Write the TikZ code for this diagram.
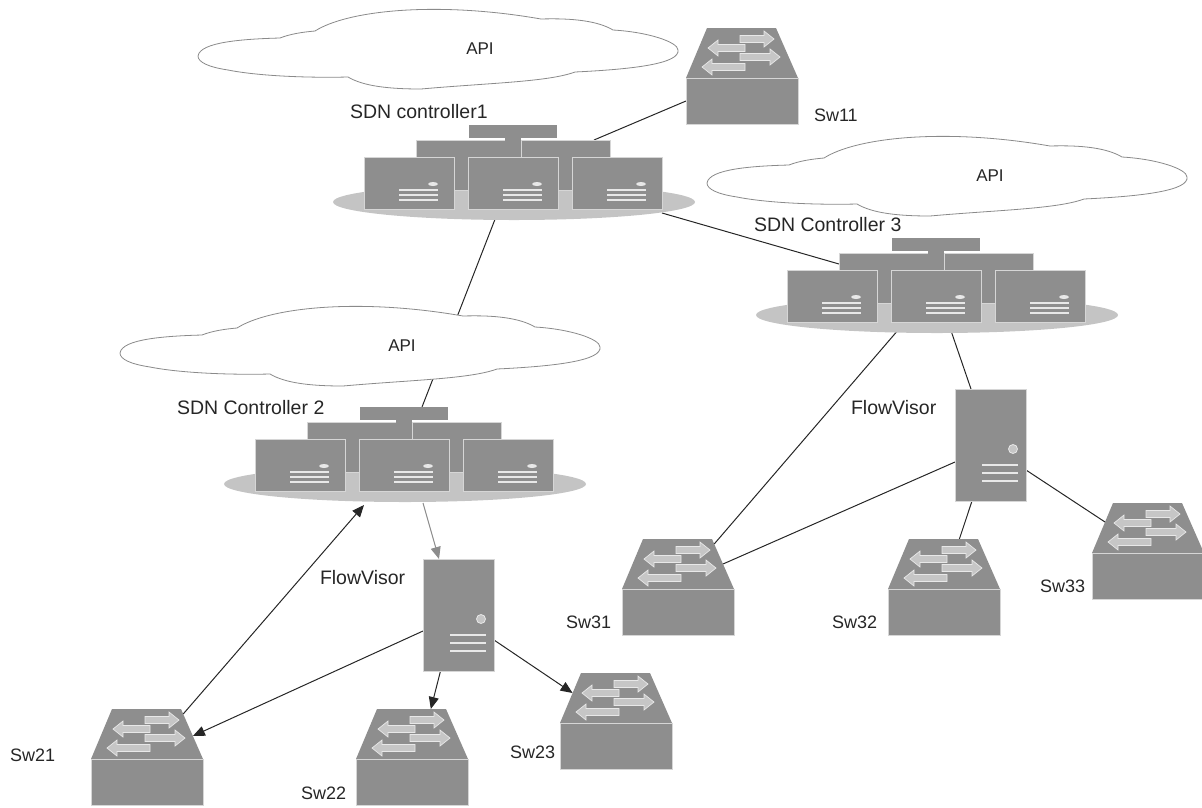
\documentclass[tikz,border=0pt]{standalone}
\usepackage{fontspec}
\setmainfont{Liberation Sans}
\usetikzlibrary{arrows.meta,calc,backgrounds,shapes.geometric}
\definecolor{devgray}{HTML}{8E8E8E}
\definecolor{devedge}{HTML}{D6D6D6}
\definecolor{discgray}{HTML}{C4C4C4}
\definecolor{flowfill}{HTML}{C6C6C6}
\definecolor{flowedge}{HTML}{E8E8E8}
\definecolor{cloudline}{HTML}{8A8A8A}
\newcommand\swflow[4]{\path[flowarrow] (#1,#4-3.5) -- (#3,#4-3.5) -- (#3,#4-8) -- (#2,#4) -- (#3,#4+8) -- (#3,#4+3.5) -- (#1,#4+3.5) -- cycle;}
\newcommand\farmdetail[1]{%
  \path[fill=flowedge] (#1+69,27) ellipse [x radius=5,y radius=2];
  \draw[detail] (#1+35,33) -- (#1+74,33) (#1+35,38) -- (#1+74,38) (#1+35,43) -- (#1+74,43);}
\tikzset{
  x=1pt,y=-1pt,
  body/.style={rectangle,anchor=north west,fill=devgray,draw=devedge,line width=0.7pt,inner sep=0pt,outer sep=0pt},
  flowarrow/.style={fill=flowfill,draw=flowedge,line width=0.7pt},
  detail/.style={draw=flowedge,line width=1.2pt},
  link/.style={draw=black!85,line width=1pt},
  headed/.style={link,-{Triangle[length=12pt,width=10pt]}},
  grayhead/.style={draw=black!45,fill=black!45,line width=1pt,-{Triangle[length=12pt,width=10pt]}},
  lab/.style={anchor=west,inner sep=0pt,outer sep=0pt,text=black!85,font=\fontsize{19.5}{22}\selectfont},
  swlab/.style={lab,font=\fontsize{18}{22}\selectfont},
  apilab/.style={anchor=center,inner sep=0pt,text=black!85,font=\fontsize{17}{20}\selectfont},
  switch/.pic={
    \fill[devgray] (0,0) -- (21,-50) -- (90,-50) -- (112,0) -- cycle;
    \coordinate (-bl) at (0,0); \coordinate (-br) at (112,0);
    \coordinate (-tl) at (21,-50); \coordinate (-tr) at (90,-50);
    \node[body,minimum width=112pt,minimum height=46pt] (-front) at (0,0) {};
    \swflow{54}{88}{78}{-39}
    \swflow{59}{22}{32}{-30}
    \swflow{54}{94}{84}{-21}
    \swflow{59}{16}{26}{-11}
  },
  server/.pic={
    \node[body,minimum width=71pt,minimum height=112pt] (-body) at (0,0) {};
    \path[fill=flowfill,draw=flowedge,line width=0.8pt] (58,60) circle [radius=4.5];
    \draw[detail] (27,76) -- (63,76) (27,84) -- (63,84) (27,92) -- (63,92);
  },
  farm/.pic={
    \node[ellipse,fill=discgray,inner sep=0pt,outer sep=0pt,minimum width=362pt,minimum height=36pt] (-disc) at (46,45) {};
    \node[body,draw=none,minimum width=88pt,minimum height=13pt] (-top) at (1,-32) {};
    \fill[devgray] (37,-20) rectangle (53,1);
    \node[body,minimum width=89pt,minimum height=50pt] (-rowL) at (-52,-17) {};
    \node[body,minimum width=89pt,minimum height=50pt] (-rowR) at (53,-17) {};
    \fill[devgray] (37,-20) rectangle (53,1);
    \node[body,minimum width=90pt,minimum height=52pt] (-left) at (-104,0) {};
    \node[body,minimum width=90pt,minimum height=52pt] (-mid) at (0,0) {};
    \node[body,minimum width=90pt,minimum height=52pt] (-right) at (104,0) {};
    \farmdetail{-104}\farmdetail{0}\farmdetail{104}
  },
  cloud/.pic={
    \node[coordinate] (-shape) at (0,0) {};
    \path[fill=white,draw=cloudline,line width=0.8pt]
      (0,48) .. controls (2,34) and (45,31) .. (82,30)
      .. controls (92,26) and (105,24) .. (117,23)
      .. controls (150,2) and (240,-7) .. (343,11)
      .. controls (375,10) and (400,13) .. (415,22)
      .. controls (450,24) and (480,34) .. (480,42)
      .. controls (482,55) and (440,61) .. (377,64)
      .. controls (350,74) and (290,75) .. (223,81)
      .. controls (190,81) and (165,78) .. (150,69)
      .. controls (110,70) and (60,68) .. (30,62)
      .. controls (10,59) and (0,54) .. (0,48) -- cycle;
  }
}
\begin{document}
\begin{tikzpicture}
\useasboundingbox (0,0) rectangle (1202,807);

\pic (cl1) at (198,8) {cloud};
\pic (cl3) at (707,135) {cloud};
\pic (cl2) at (120,305) {cloud};

\pic (c1) at (468,157) {farm};
\pic (c3) at (891,270) {farm};
\pic (c2) at (359,439) {farm};

\pic (fv1) at (423,559) {server};
\pic (fv2) at (955,389) {server};

\pic (sw11) at (686,78) {switch};
\pic (sw21) at (91,759) {switch};
\pic (sw22) at (356,759) {switch};
\pic (sw23) at (560,723) {switch};
\pic (sw31) at (622,589) {switch};
\pic (sw32) at (888,589) {switch};
\pic (sw33) at (1092,553) {switch};

\node[apilab] (api1) at (480,49) {API};
\node[apilab] (api2) at (402,346) {API};
\node[apilab] (api3) at (990,176) {API};

\node[lab] (t1) at (350,112) {SDN controller1};
\node[lab] (t2) at (177,408) {SDN Controller 2};
\node[lab] (t3) at (754,225) {SDN Controller 3};
\node[lab] (f1) at (320,578) {FlowVisor};
\node[lab] (f2) at (851,408) {FlowVisor};
\node[swlab] (s11) at (814,115) {Sw11};
\node[swlab] (s21) at (10,755) {Sw21};
\node[swlab] (s22) at (301,793) {Sw22};
\node[swlab] (s23) at (510,752) {Sw23};
\node[swlab] (s31) at (566,622) {Sw31};
\node[swlab] (s32) at (832,622) {Sw32};
\node[swlab] (s33) at (1040,586) {Sw33};

\begin{scope}[on background layer]
\draw[link] (sw11-front.west) -- ([xshift=73pt]c1-rowR.north west);
\draw[link] ([yshift=-4pt]c1-right.south east) -- ([yshift=-11pt]c3-rowL.north west);
\draw[link] ([xshift=-14pt]c1-mid.south) -- ([xshift=18pt]c2-top.north);
\draw[grayhead] ([xshift=18pt,yshift=-1pt]c2-disc.south) -- ([xshift=16pt]fv1-body.north west);
\draw[headed] ([yshift=31pt]fv1-body.south east) -- ($(sw23-bl)!0.6!(sw23-tl)$);
\draw[headed] ([xshift=-18pt]fv1-body.south) -- ($(sw22-tl)!0.78!(sw22-tr)$);
\draw[headed] ([yshift=40pt]fv1-body.south west) -- ($(sw21-br)!0.46!(sw21-tr)$);
\draw[headed] ($(sw21-br)!0.9!(sw21-tr)$) -- ([xshift=-41pt,yshift=-3pt]c2-disc.south);
\draw[link] ([xshift=-31pt]c3-mid.south) -- ($(sw31-br)!0.9!(sw31-tr)$);
\draw[link] ([xshift=12pt]c3-mid.south) -- ([xshift=16pt]fv2-body.north west);
\draw[link] ([yshift=39pt]fv2-body.south west) -- ($(sw31-br)!0.5!(sw31-tr)$);
\draw[link] ([xshift=-18.5pt]fv2-body.south) -- ($(sw32-tl)!0.73!(sw32-tr)$);
\draw[link] ([yshift=31pt]fv2-body.south east) -- ($(sw33-bl)!0.62!(sw33-tl)$);
\end{scope}
\end{tikzpicture}
\end{document}
